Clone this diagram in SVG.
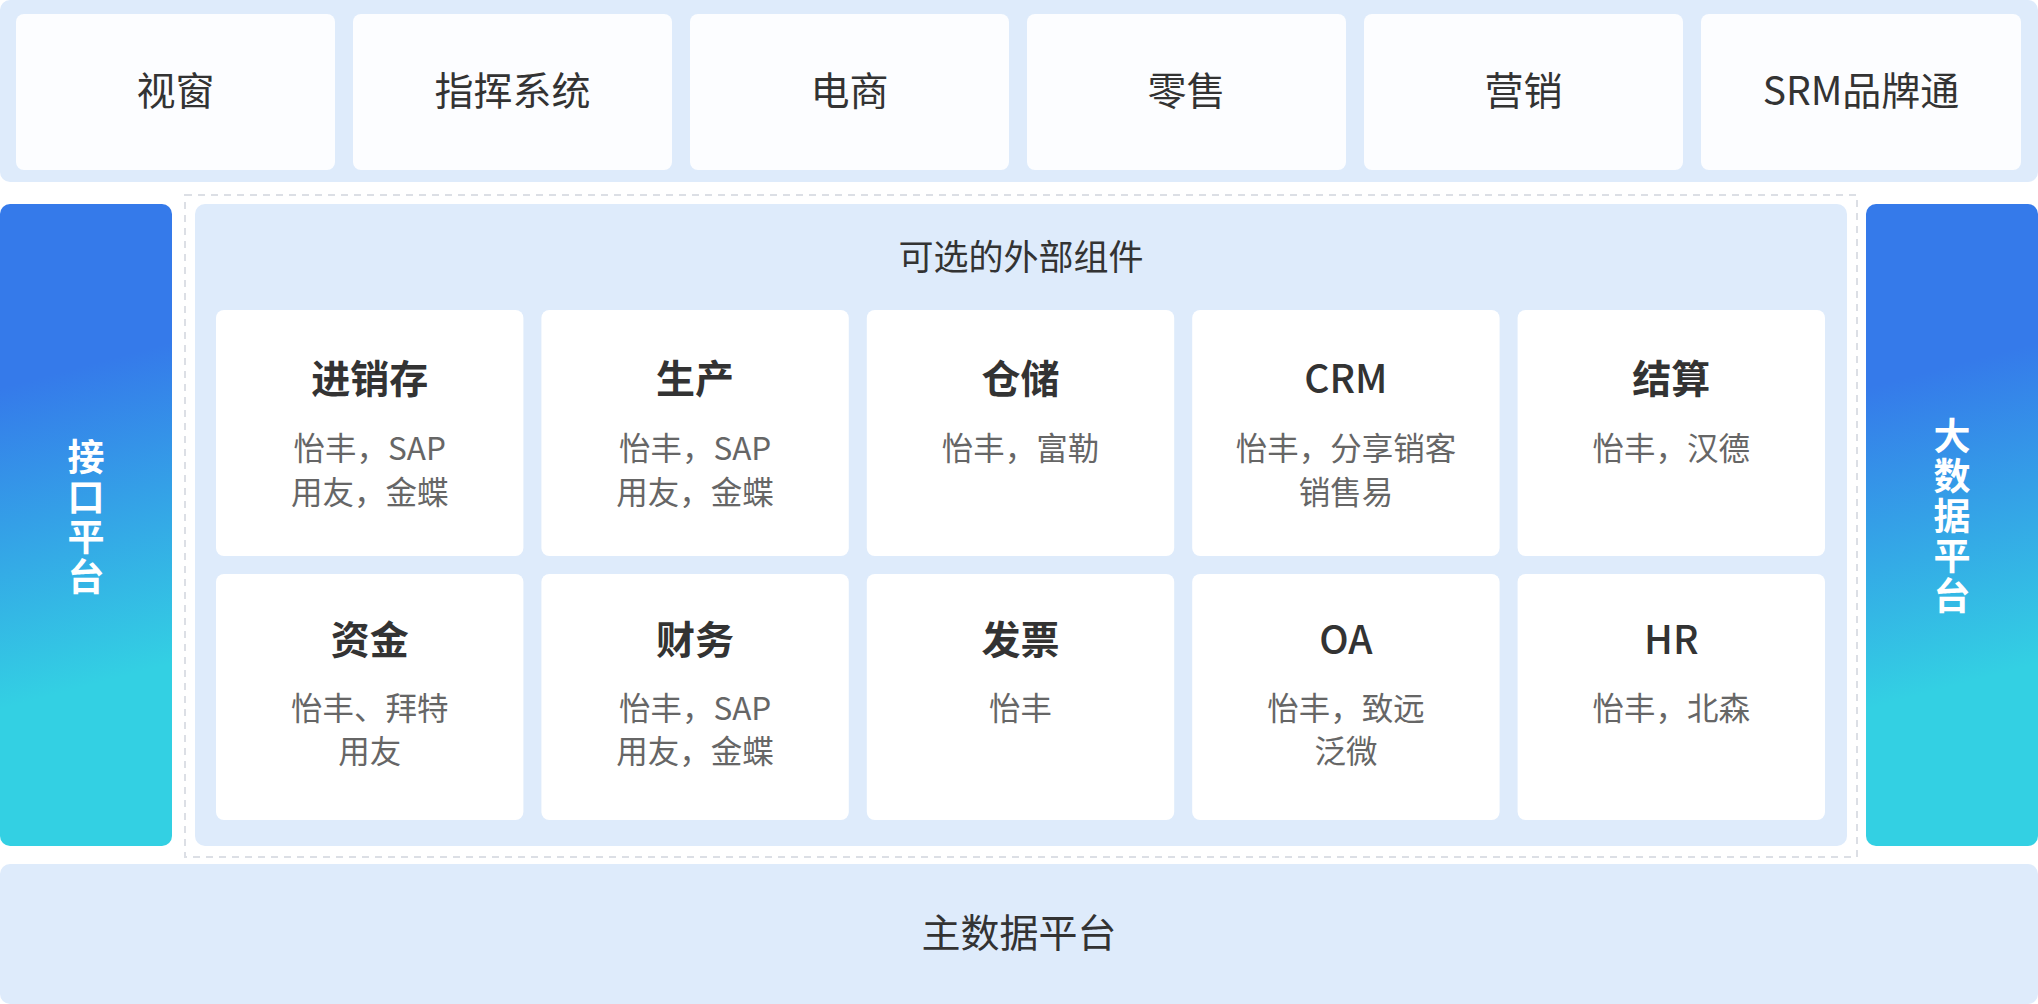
<svg xmlns="http://www.w3.org/2000/svg" width="2038" height="1004" viewBox="0 0 2038 1004">
<defs>
<style>
.band{fill:#deebfb}
.top{fill:#fcfdff}
.card{fill:#ffffff}
.t{font-family:"Noto Sans CJK SC","Noto Sans",sans-serif;text-anchor:middle;dominant-baseline:central}
.tl{font-size:39px;fill:#333333}
.ct{font-size:39px;fill:#333333;font-weight:700}
.cl{font-size:39px;fill:#333333;font-weight:500}
.cs{font-size:31.5px;fill:#666666}
.vt{font-size:37px;fill:#ffffff;font-weight:700;writing-mode:vertical-rl;text-orientation:upright;letter-spacing:3px}
.ttl{font-size:35px;fill:#333333}
</style>
<linearGradient id="gL" gradientUnits="userSpaceOnUse" x1="30" y1="380" x2="110" y2="680">
<stop offset="0" stop-color="#357aea"/>
<stop offset="1" stop-color="#33d0e3"/>
</linearGradient>
<linearGradient id="gR" gradientUnits="userSpaceOnUse" x1="1896" y1="380" x2="1976" y2="680">
<stop offset="0" stop-color="#357aea"/>
<stop offset="1" stop-color="#33d0e3"/>
</linearGradient>
</defs>
<rect width="2038" height="1004" fill="#ffffff"/>
<g id="top-layer">
<rect class="band" x="0" y="0" width="2038" height="182" rx="10"/>
<g id="n-shichuang"><rect class="top" x="16" y="14" width="319" height="156" rx="8"/><text class="t tl" x="175.5" y="88">视窗</text></g>
<g id="n-zhihui"><rect class="top" x="353" y="14" width="319" height="156" rx="8"/><text class="t tl" x="512.5" y="88">指挥系统</text></g>
<g id="n-dianshang"><rect class="top" x="690" y="14" width="319" height="156" rx="8"/><text class="t tl" x="849.5" y="88">电商</text></g>
<g id="n-lingshou"><rect class="top" x="1027" y="14" width="319" height="156" rx="8"/><text class="t tl" x="1186.5" y="88">零售</text></g>
<g id="n-yingxiao"><rect class="top" x="1364" y="14" width="319" height="156" rx="8"/><text class="t tl" x="1523.5" y="88">营销</text></g>
<g id="n-srm"><rect class="top" x="1701" y="14" width="320" height="156" rx="8"/><text class="t tl" x="1861" y="88">SRM品牌通</text></g>
</g>
<g id="n-jiekou">
<rect x="0" y="204" width="172" height="642" rx="10" fill="url(#gL)"/>
<text class="t vt" x="86" y="518">接口平台</text>
</g>
<g id="n-dashuju">
<rect x="1866" y="204" width="172" height="642" rx="10" fill="url(#gR)"/>
<text class="t vt" x="1952" y="517">大数据平台</text>
</g>
<g id="optional-components">
<rect x="185" y="195" width="1672" height="662" fill="none" stroke="#dcdfe5" stroke-width="2" stroke-dasharray="7 6"/>
<rect class="band" x="195" y="204" width="1652" height="642" rx="10"/>
<text class="t ttl" x="1021" y="254">可选的外部组件</text>
<g id="n-jinxiaocun"><rect class="card" x="216" y="310" width="307.4" height="246" rx="8"/><text class="t ct" x="369.7" y="376">进销存</text><text class="t cs" x="369.7" y="446">怡丰，SAP</text><text class="t cs" x="369.7" y="490">用友，金蝶</text></g>
<g id="n-shengchan"><rect class="card" x="541.4" y="310" width="307.4" height="246" rx="8"/><text class="t ct" x="695.1" y="376">生产</text><text class="t cs" x="695.1" y="446">怡丰，SAP</text><text class="t cs" x="695.1" y="490">用友，金蝶</text></g>
<g id="n-cangchu"><rect class="card" x="866.8" y="310" width="307.4" height="246" rx="8"/><text class="t ct" x="1020.5" y="376">仓储</text><text class="t cs" x="1020.5" y="446">怡丰，富勒</text></g>
<g id="n-crm"><rect class="card" x="1192.2" y="310" width="307.4" height="246" rx="8"/><text class="t cl" x="1345.9" y="376">CRM</text><text class="t cs" x="1345.9" y="446">怡丰，分享销客</text><text class="t cs" x="1345.9" y="490">销售易</text></g>
<g id="n-jiesuan"><rect class="card" x="1517.6" y="310" width="307.4" height="246" rx="8"/><text class="t ct" x="1671.3" y="376">结算</text><text class="t cs" x="1671.3" y="446">怡丰，汉德</text></g>
<g id="n-zijin"><rect class="card" x="216" y="574" width="307.4" height="246" rx="8"/><text class="t ct" x="369.7" y="637">资金</text><text class="t cs" x="369.7" y="706">怡丰、拜特</text><text class="t cs" x="369.7" y="749">用友</text></g>
<g id="n-caiwu"><rect class="card" x="541.4" y="574" width="307.4" height="246" rx="8"/><text class="t ct" x="695.1" y="637">财务</text><text class="t cs" x="695.1" y="706">怡丰，SAP</text><text class="t cs" x="695.1" y="749">用友，金蝶</text></g>
<g id="n-fapiao"><rect class="card" x="866.8" y="574" width="307.4" height="246" rx="8"/><text class="t ct" x="1020.5" y="637">发票</text><text class="t cs" x="1020.5" y="706">怡丰</text></g>
<g id="n-oa"><rect class="card" x="1192.2" y="574" width="307.4" height="246" rx="8"/><text class="t cl" x="1345.9" y="637">OA</text><text class="t cs" x="1345.9" y="706">怡丰，致远</text><text class="t cs" x="1345.9" y="749">泛微</text></g>
<g id="n-hr"><rect class="card" x="1517.6" y="574" width="307.4" height="246" rx="8"/><text class="t cl" x="1671.3" y="637">HR</text><text class="t cs" x="1671.3" y="706">怡丰，北森</text></g>
</g>
<g id="n-zhushuju">
<rect class="band" x="0" y="864" width="2038" height="140" rx="10"/>
<text class="t tl" x="1019" y="930">主数据平台</text>
</g>
<g id="connectors"/>
</svg>
